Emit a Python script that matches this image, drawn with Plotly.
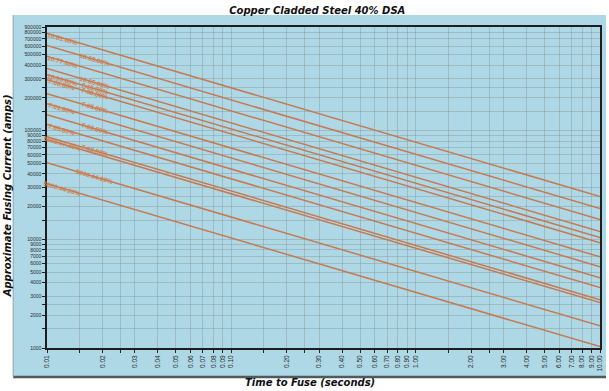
import math
import plotly.graph_objects as go

# ---- data ----
t_start = 0.01
t_end = 10.0
# approximate fusing current at t = 0.01 s and at t = 10 s for each curve
current_at_start = [783000, 607000, 481000, 373000, 328000, 295000, 219000,
                    177000, 140000, 114000, 88000, 83000, 50700, 32500]
current_at_end = [24800, 19200, 15200, 11800, 10400, 9300, 6900,
                  5600, 4430, 3600, 2780, 2620, 1600, 1030]

# curve labels (index of curve, time position, text)
label_curve = [0, 1, 2, 3, 4, 4, 5, 5, 6, 7, 8, 9, 10, 11, 12, 13]
label_time = [0.0121, 0.0182, 0.0121, 0.0182, 0.0121, 0.0182, 0.0121, 0.0182,
              0.0182, 0.0121, 0.0182, 0.0121, 0.0182, 0.0121, 0.0182, 0.0121]
label_text = ["10.81.80%", "10.68.80%", "10.77.80%", "10.65.80%", "10.99.80%",
              "7.65.80%", "7.88.80%", "7.88.80%", "7.05.80%", "7.81.80%",
              "7.83.80%", "7.65.80%", "7.63.80%", "5000.97.40%", "5000.44.20%",
              "5000.44.20%"]

x_tick_vals = [0.01, 0.015, 0.02, 0.025, 0.03, 0.04, 0.05, 0.06, 0.07, 0.08, 0.09,
               0.10, 0.15, 0.20, 0.25, 0.30, 0.40, 0.50, 0.60, 0.70, 0.80, 0.90,
               1.00, 1.5, 2.00, 2.5, 3.00, 4.00, 5.00, 6.00, 7.00, 8.00, 9.00, 10.00]
x_tick_text = ["0.01", "", "0.02", "", "0.03", "0.04", "0.05", "0.06", "0.07", "0.08", "0.09",
               "0.10", "", "0.20", "", "0.30", "0.40", "0.50", "0.60", "0.70", "0.80", "0.90",
               "1.00", "", "2.00", "", "3.00", "4.00", "5.00", "6.00", "7.00", "8.00", "9.00", "10.00"]

y_tick_vals = [1000, 1500, 2000, 2500, 3000, 4000, 5000, 6000, 7000, 8000, 9000,
               10000, 15000, 20000, 25000, 30000, 40000, 50000, 60000, 70000, 80000, 90000,
               100000, 150000, 200000, 250000, 300000, 400000, 500000, 600000, 700000,
               800000, 900000]
y_tick_text = ["1000", "", "2000", "", "3000", "4000", "5000", "6000", "7000", "8000", "9000",
               "10000", "", "20000", "", "30000", "40000", "50000", "60000", "70000", "80000", "90000",
               "100000", "", "200000", "", "300000", "400000", "500000", "600000", "700000",
               "800000", "900000"]

LINE_COLOR = "#c67a52"
LABEL_COLOR = "#d17e4e"
PLOT_BG = "#a9d4e1"
PANEL_BG = "#aed8e5"
GRID = "rgba(125,135,130,0.35)"

fig = go.Figure()
for i0, i1 in zip(current_at_start, current_at_end):
    fig.add_trace(go.Scatter(x=[t_start, t_end], y=[i0, i1], mode="lines",
                             line=dict(color=LINE_COLOR, width=1.5),
                             showlegend=False, hoverinfo="skip"))

lx0, lx1 = math.log10(t_start), math.log10(t_end)
for ci, tt, txt in zip(label_curve, label_time, label_text):
    ly0 = math.log10(current_at_start[ci])
    ly1 = math.log10(current_at_end[ci])
    lx = math.log10(tt)
    ly = ly0 + (ly1 - ly0) * (lx - lx0) / (lx1 - lx0)
    fig.add_annotation(x=lx, y=ly, xref="x", yref="y", text=txt, showarrow=False,
                       textangle=16, xanchor="center", yanchor="middle",
                       font=dict(family="Liberation Sans", size=6.5, color=LABEL_COLOR,
                                 weight="bold"))

# background panel and its shadow edges
fig.add_shape(type="rect", xref="paper", yref="paper", x0=-0.0612, x1=1.0108,
              y0=-0.0903, y1=1.037, fillcolor=PANEL_BG, line=dict(width=0), layer="below")
fig.add_shape(type="line", xref="paper", yref="paper", x0=-0.0612, x1=1.0108,
              y0=-0.0903, y1=-0.0903, line=dict(color="#4f5a5e", width=2.5), layer="below")
fig.add_shape(type="line", xref="paper", yref="paper", x0=-0.0612, x1=-0.0612,
              y0=-0.0903, y1=1.037, line=dict(color="#8fa3aa", width=1), layer="below")

# axis titles
fig.add_annotation(x=0.475, y=-0.106, xref="paper", yref="paper",
                   text="Time to Fuse (seconds)", showarrow=False,
                   xanchor="center", yanchor="middle",
                   font=dict(family="DejaVu Sans", size=10, color="#111111",
                             weight="bold", style="italic"))
fig.add_annotation(x=-0.072, y=0.473, xref="paper", yref="paper",
                   text="Approximate Fusing Current (amps)", showarrow=False,
                   textangle=-90, xanchor="center", yanchor="middle",
                   font=dict(family="DejaVu Sans", size=10, color="#111111",
                             weight="bold", style="italic"))

fig.update_xaxes(type="log", range=[lx0, lx1], tickmode="array",
                 tickvals=x_tick_vals, ticktext=x_tick_text, tickangle=-90,
                 tickfont=dict(family="Liberation Sans", size=6.5, color="#2a2a2a"),
                 ticks="outside", ticklen=3, tickcolor="#222222",
                 showgrid=True, gridcolor=GRID, gridwidth=1,
                 showline=True, linecolor="#1e1e1e", linewidth=1.5, mirror=True,
                 zeroline=False)
fig.update_yaxes(type="log", range=[3, math.log10(900000)], tickmode="array",
                 tickvals=y_tick_vals, ticktext=y_tick_text,
                 tickfont=dict(family="Liberation Sans", size=5, color="#2a2a2a"),
                 ticks="outside", ticklen=3, tickcolor="#222222",
                 showgrid=True, gridcolor=GRID, gridwidth=1,
                 showline=True, linecolor="#1e1e1e", linewidth=1.5, mirror=True,
                 zeroline=False)

fig.update_layout(
    width=609, height=391,
    margin=dict(l=47, r=6, t=27, b=43),
    paper_bgcolor="white", plot_bgcolor=PLOT_BG,
    title=dict(text="Copper Cladded Steel 40% DSA", x=0.521, xref="container",
               xanchor="center", y=0.974, yref="container", yanchor="middle",
               font=dict(family="DejaVu Sans", size=10, color="#111111",
                         weight="bold", style="italic")),
)

fig.write_html("out.html", config={"displayModeBar": False},
               post_script="document.body.style.margin='0';document.body.style.overflow='hidden';")
